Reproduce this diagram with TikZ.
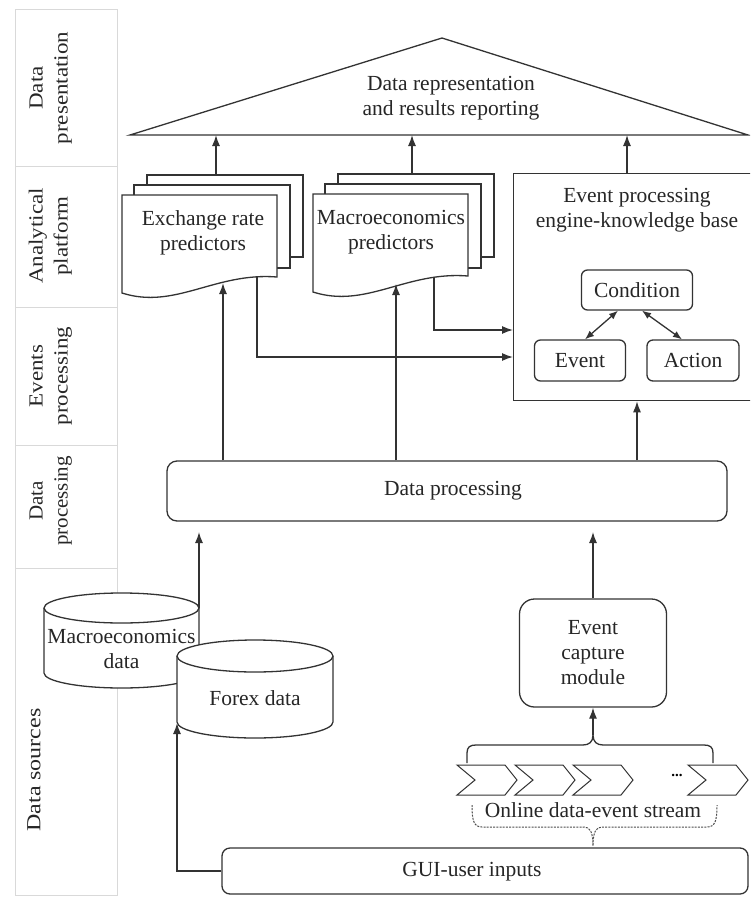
\documentclass[tikz,border=0pt]{standalone}
\usepackage{fontspec}
\setmainfont{Liberation Serif}
\usetikzlibrary{arrows.meta}
\begin{document}
\begin{tikzpicture}[x=1pt,y=-1pt,
  ln/.style={line width=1.3pt,draw=black!80},
  arr/.style={ln,-{Latex[length=11pt,width=8pt]}},
  darr/.style={ln,{Latex[length=9pt,width=7pt]}-{Latex[length=9pt,width=7pt]}},
  lbl/.style={font=\fontsize{21.5}{25}\selectfont, text=black!85, align=center, inner sep=0pt},
  band/.style={draw=black!15,line width=1pt},
  side/.style={font=\fontsize{20}{25}\selectfont, text=black!85, inner sep=0pt, rotate=90},
  rbox/.style={ln, rounded corners=8pt, fill=white, draw},
]
\useasboundingbox (0,0) rectangle (750,907);
\clip (0,0) rectangle (750,907);

% left band
\draw[band] (15,10) rectangle (117,895);
\foreach \y in {166,307,445,568} \draw[band] (15,\y) -- (117,\y);
\node[side] (lpres) at (50,88) {\scalebox{1.15}[1]{\begin{tabular}{@{}c@{}}Data\\presentation\end{tabular}}};
\node[side] (lanal) at (50,236) {\scalebox{1.15}[1]{\begin{tabular}{@{}c@{}}Analytical\\platform\end{tabular}}};
\node[side] (levt) at (50,376) {\scalebox{1.15}[1]{\begin{tabular}{@{}c@{}}Events\\processing\end{tabular}}};
\node[side] (ldp) at (50,501) {\scalebox{1.05}[1]{\begin{tabular}{@{}c@{}}Data\\processing\end{tabular}}};
\node[side] (lsrc) at (34,770) {\scalebox{1.2}[1]{Data sources}};

% triangle
\draw[ln, fill=white] (130,135) -- (442,38) -- (748,135) -- cycle;
\node[lbl] (rep) at (451,98.5) {Data representation\\and results reporting};
\coordinate (b1) at (216,135);
\coordinate (b2) at (412,135);
\coordinate (b3) at (627,135);

% exchange rate predictors
\draw[ln, fill=white] (147,175) rectangle (303,257);
\draw[ln, fill=white] (134,185) rectangle (290,268);
\draw[ln, fill=white] (122,195) -- (277,195) -- (277,277) .. controls (215,272) and (175,310) .. (122,293) -- cycle;
\node[lbl] (exch) at (203,232.5) {Exchange rate\\predictors};
\coordinate (exTop) at (216,175);
\coordinate (exIn) at (223,283);
\coordinate (exOut) at (257,277);

% macroeconomics predictors
\draw[ln, fill=white] (338,174) rectangle (494,257);
\draw[ln, fill=white] (325,184) rectangle (481,268);
\draw[ln, fill=white] (313,194) -- (468,194) -- (468,276) .. controls (406,271) and (366,309) .. (313,292) -- cycle;
\node[lbl] (macp) at (391,232.5) {Macroeconomics\\predictors};
\coordinate (mcTop) at (412,174);
\coordinate (mcIn) at (396,284);
\coordinate (mcOut) at (434,277);

% event processing engine
\node[ln, draw, anchor=north west, minimum width=250pt, minimum height=227pt, inner sep=0pt] (epe) at (513,173) {};
\node[lbl] (eptxt) at (637,210) {Event processing\\engine-knowledge base};
\node[rbox, rounded corners=6pt, minimum width=111pt, minimum height=40pt, lbl] (cond) at (637,290) {Condition};
\node[rbox, rounded corners=6pt, minimum width=91pt, minimum height=41pt, lbl] (ev) at (580,360.5) {Event};
\node[rbox, rounded corners=6pt, minimum width=92pt, minimum height=41pt, lbl] (act) at (693,360.5) {Action};
\draw[darr] ([xshift=-19pt]cond.south) -- ([xshift=5pt]ev.north);
\draw[darr] ([xshift=5pt]cond.south) -- ([xshift=-11pt]act.north);
\coordinate (epTop) at (627,173);
\coordinate (epIn1) at (513,330);
\coordinate (epIn2) at (513,357);

% data processing
\node[rbox, rounded corners=10pt, minimum width=560pt, minimum height=60pt] (dp) at (447,491) {};
\node[lbl] (dptxt) at (453,491) {Data processing};

% arrows to triangle
\draw[arr] (exTop) -- (b1);
\draw[arr] (mcTop) -- (b2);
\draw[arr] (epTop) -- (b3);

% arrows from data processing
\draw[arr] (dp.north -| exIn) -- (exIn);
\draw[arr] (dp.north -| mcIn) -- (mcIn);
\draw[arr] (dp.north -| cond) -- (epe.south -| cond);

% predictors to event engine
\draw[arr] (mcOut) |- (epIn1);
\draw[arr] (exOut) |- (epIn2);

% macroeconomics data cylinder
\draw[ln, fill=white] (44,608) -- (44,673) arc[start angle=180, end angle=0, x radius=77.5, y radius=15] -- (199,608);
\draw[ln, fill=white] (121.5,608) ellipse[x radius=77.5, y radius=15];
\node[lbl] (macdata) at (121.5,649) {Macroeconomics\\data};
\coordinate (macR) at (199,608);
\coordinate (tipA) at (199,532);
\draw[arr] (macR) -- (tipA);

% forex data cylinder
\draw[ln, fill=white] (177,656) -- (177,722) arc[start angle=180, end angle=0, x radius=78, y radius=16] -- (333,656);
\draw[ln, fill=white] (255,656) ellipse[x radius=78, y radius=16];
\node[lbl] (forex) at (255,698) {Forex data};
\coordinate (fxBL) at (177,723);

% event capture module
\node[rbox, rounded corners=15pt, minimum width=147pt, minimum height=108pt, lbl] (ecm) at (593,653) {Event\\capture\\module};
\coordinate (tipB) at (593,532);
\draw[arr] (ecm.north) -- (tipB);

% stream
\foreach \x in {457,515,573,688}
  \draw[ln, line width=1pt] (\x,765) -- ++(48,0) -- ++(12,15) -- ++(-12,15) -- ++(-48,0) -- ++(18,-15) -- cycle;
\node[font=\fontsize{15}{15}\selectfont\bfseries, inner sep=0pt] (dots) at (677,775) {...};
\draw[ln] (467,763) -- (467,753) .. controls (467,747) and (470,745) .. (476,745) -- (583,745) .. controls (589,745) and (593,742) .. (593,735)
  coordinate (braceTip) .. controls (593,742) and (597,745) .. (603,745) -- (704,745) .. controls (710,745) and (713,747) .. (713,753) -- (713,763);
\draw[arr] (braceTip) -- (ecm.south);
\node[lbl] (stream) at (593,810) {Online data-event stream};
\draw[line width=1pt, draw=black!70, dash pattern=on 2pt off 1.2pt] (472,805) .. controls (472,821) and (474,827) .. (482,827) -- (584,827) .. controls (590,827) and (593,832) .. (593,846)
  .. controls (593,832) and (596,827) .. (602,827) -- (707,827) .. controls (715,827) and (717,821) .. (717,805);

% GUI
\node[rbox, rounded corners=8pt, minimum width=526pt, minimum height=46pt] (gui) at (485,871) {};
\node[lbl] (guitxt) at (472,872) {GUI-user inputs};
\draw[arr] (gui.west) -| (fxBL);
\end{tikzpicture}
\end{document}
